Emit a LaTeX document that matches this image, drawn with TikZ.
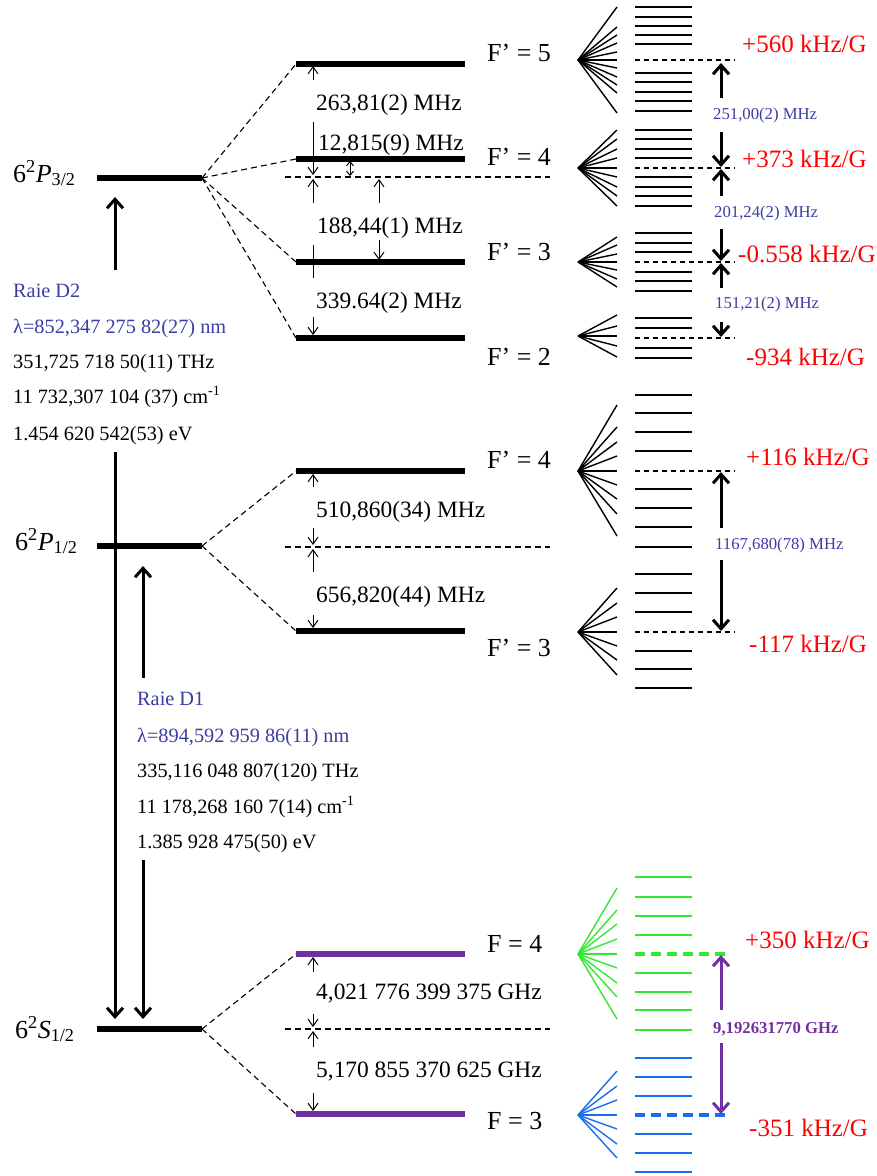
\documentclass[tikz,border=0pt]{standalone}
\usepackage{fontspec}
\setmainfont{Liberation Serif}
\usetikzlibrary{arrows.meta}
\definecolor{raie}{RGB}{60,60,165}
\definecolor{hfviolet}{RGB}{112,48,160}
\definecolor{zvert}{RGB}{50,232,50}
\definecolor{zbleu}{RGB}{25,110,240}
\definecolor{zrouge}{RGB}{255,0,0}
% Zeeman sublevels: apex y, fan ends, sublevel lines, colour
\newcommand{\zeeman}[4]{%
  \foreach \y in {#2} \draw[#4, line width=1.4pt] (578,#1) -- (617,\y);
  \foreach \y in {#3} \draw[#4, line width=2.2pt] (635,\y) -- (692,\y);
}
\begin{document}
\begin{tikzpicture}[x=1pt,y=-1pt,
  niveau/.style={line width=5.5pt},
  liaison/.style={line width=1.1pt, dash pattern=on 6pt off 4pt},
  milieu/.style={line width=1.1pt, dash pattern=on 6pt off 4pt},
  petite/.style={line width=1pt, -{Straight Barb[length=7pt,width=10pt]}},
  grosse/.style={line width=3pt, -{Straight Barb[length=9pt,width=16pt]}},
  mhz/.style={font=\fontsize{23.4}{28}\selectfont, anchor=base west, inner sep=0pt},
  etat/.style={font=\fontsize{26}{30}\selectfont, anchor=base west, inner sep=0pt},
  gauss/.style={font=\fontsize{25}{30}\selectfont, text=zrouge, anchor=base west, inner sep=0pt},
  ecart/.style={font=\fontsize{16.7}{20}\selectfont, text=raie, anchor=base west, inner sep=0pt},
  raiet/.style={font=\fontsize{20.3}{24}\selectfont, anchor=base west, inner sep=0pt}]
\useasboundingbox (0,0) rectangle (877,1176);

% fine structure levels
\draw[niveau] (97,178) -- (202,178) coordinate (P3r);
\draw[niveau] (97,546) -- (202,546) coordinate (P1r);
\draw[niveau] (97,1029) -- (202,1029) coordinate (S1r);
\node[etat] (lP3) at (13,182) {6\textsuperscript{2}\textit{P}\textsubscript{3/2}};
\node[etat] (lP1) at (15,550) {6\textsuperscript{2}\textit{P}\textsubscript{1/2}};
\node[etat] (lS1) at (15,1038) {6\textsuperscript{2}\textit{S}\textsubscript{1/2}};

% hyperfine levels
\draw[niveau] (296,64) coordinate (F5) -- (465,64);
\draw[niveau] (296,159) coordinate (F4) -- (465,159);
\draw[niveau] (296,262) coordinate (F3) -- (465,262);
\draw[niveau] (296,338) coordinate (F2) -- (465,338);
\draw[niveau] (296,471) coordinate (G4) -- (465,471);
\draw[niveau] (296,631) coordinate (G3) -- (465,631);
\draw[niveau, hfviolet] (296,954) coordinate (H4) -- (465,954);
\draw[niveau, hfviolet] (296,1114) coordinate (H3) -- (465,1114);
\foreach \a/\b in {P3r/F5,P3r/F4,P3r/F3,P3r/F2,P1r/G4,P1r/G3,S1r/H4,S1r/H3}
  \draw[liaison] (\a) -- (\b);
\foreach \y in {177,547,1029}
  \draw[milieu] (285,\y) -- (550,\y);

\node[etat] (tF5) at (487,61) {F’ = 5};
\node[etat] (tF4) at (487,165) {F’ = 4};
\node[etat] (tF3) at (487,260) {F’ = 3};
\node[etat] (tF2) at (487,365) {F’ = 2};
\node[etat] (tG4) at (487,468) {F’ = 4};
\node[etat] (tG3) at (487,656) {F’ = 3};
\node[etat] (tH4) at (487,952) {F = 4};
\node[etat] (tH3) at (487,1129) {F = 3};

% hyperfine splittings
\draw[petite] (313,80) -- (313,66);
\draw[petite] (313,122) -- (313,175);
\draw[petite] (313,203) -- (313,179);
\draw[line width=1pt, {Straight Barb[length=4pt,width=7pt]}-{Straight Barb[length=4pt,width=7pt]}] (350,161) -- (350,176);
\draw[petite] (379,203) -- (379,179);
\draw[petite] (379,240) -- (379,260);
\draw[line width=1pt] (313,245) -- (313,278);
\draw[petite] (313,317) -- (313,335);
\draw[petite] (313,487) -- (313,474);
\draw[petite] (313,528) -- (313,545);
\draw[petite] (313,572) -- (313,549);
\draw[petite] (313,615) -- (313,628);
\draw[petite] (313,972) -- (313,957);
\draw[petite] (313,1014) -- (313,1027);
\draw[petite] (313,1047) -- (313,1031);
\draw[petite] (313,1093) -- (313,1111);
\node[mhz] (m1) at (316,110) {263,81(2) MHz};
\node[mhz] (m2) at (318,150) {12,815(9) MHz};
\node[mhz] (m3) at (317,233) {188,44(1) MHz};
\node[mhz] (m4) at (316,308) {339.64(2) MHz};
\node[mhz] (m5) at (316,517) {510,860(34) MHz};
\node[mhz] (m6) at (316,602) {656,820(44) MHz};
\node[mhz] (m7) at (316,999) {4,021 776 399 375 GHz};
\node[mhz] (m8) at (316,1077) {5,170 855 370 625 GHz};

% Zeeman sublevels
\zeeman{60}{7,27,35,43,52,60,68,77,85,93,113}{7,17,26,35,44,73,82,92,101,111}{black}
\zeeman{168}{130,139,149,158,168,177,187,196,206}{130,139,149,158,177,187,196,206}{black}
\zeeman{262}{237,245,254,262,270,279,287}{233,243,252,272,281,291}{black}
\zeeman{336}{315,326,336,346,357}{318,328,348,358}{black}
\zeeman{471}{405,427,442,456,471,485,499,514,536}{395,413,432,451,489,508,527,547}{black}
\zeeman{632}{588,603,617,632,646,660,675}{574,593,612,651,669,688}{black}
\zeeman{954}{888,910,924,939,954,968,983,997,1019}{877,897,916,935,973,992,1010,1030}{zvert}
\zeeman{1115}{1071,1086,1100,1115,1129,1144,1158}{1058,1077,1096,1134,1153,1172}{zbleu}
\foreach \y in {60,168,262,338,471,632}
  \draw[line width=1.3pt, dash pattern=on 5pt off 4pt] (635,\y) -- (735,\y);
\draw[zvert, line width=4pt, dash pattern=on 10pt off 6pt] (635,954) -- (729,954);
\draw[zbleu, line width=4pt, dash pattern=on 10pt off 6pt] (635,1115) -- (729,1115);

% Zeeman gaps
\draw[grosse] (721,98) -- (721,63);
\draw[grosse] (721,132) -- (721,167);
\draw[grosse] (721,196) -- (721,169);
\draw[grosse] (721,229) -- (721,261);
\draw[grosse] (721,288) -- (721,263);
\draw[grosse] (721,322) -- (721,337);
\draw[grosse] (721,528) -- (721,472);
\draw[grosse] (721,560) -- (721,631);
\draw[grosse, hfviolet] (721,1010) -- (721,955);
\draw[grosse, hfviolet] (721,1043) -- (721,1114);
\node[ecart] (e1) at (713,119) {251,00(2) MHz};
\node[ecart] (e2) at (714,217) {201,24(2) MHz};
\node[ecart] (e3) at (715,308) {151,21(2) MHz};
\node[ecart] (e4) at (715,549) {1167,680(78) MHz};
\node[ecart, text=hfviolet, font=\fontsize{16.7}{20}\selectfont\bfseries] (e5) at (713,1033) {9,192631770 GHz};

\node[gauss] (g1) at (742,52) {+560 kHz/G};
\node[gauss] (g2) at (742,167) {+373 kHz/G};
\node[gauss] (g3) at (738,262) {-0.558 kHz/G};
\node[gauss] (g4) at (746,365) {-934 kHz/G};
\node[gauss] (g5) at (746,465) {+116 kHz/G};
\node[gauss] (g6) at (749,652) {-117 kHz/G};
\node[gauss] (g7) at (745,948) {+350 kHz/G};
\node[gauss] (g8) at (749,1136) {-351 kHz/G};

% D lines
\draw[grosse] (115,270) -- (115,197);
\draw[grosse] (115,452) -- (115,1019);
\draw[grosse] (143,678) -- (143,566);
\draw[grosse] (143,860) -- (143,1019);
\node[raiet, text=raie] (d2a) at (13,297) {Raie D2};
\node[raiet, text=raie] (d2b) at (13,333) {λ=852,347 275 82(27) nm};
\node[raiet] (d2c) at (13,368) {351,725 718 50(11) THz};
\node[raiet] (d2d) at (13,403) {11 732,307 104 (37) cm\textsuperscript{-1}};
\node[raiet] (d2e) at (13,440) {1.454 620 542(53) eV};
\node[raiet, text=raie] (d1a) at (137,705) {Raie D1};
\node[raiet, text=raie] (d1b) at (137,742) {λ=894,592 959 86(11) nm};
\node[raiet] (d1c) at (137,777) {335,116 048 807(120) THz};
\node[raiet] (d1d) at (137,813) {11 178,268 160 7(14) cm\textsuperscript{-1}};
\node[raiet] (d1e) at (137,848) {1.385 928 475(50) eV};
\end{tikzpicture}
\end{document}
